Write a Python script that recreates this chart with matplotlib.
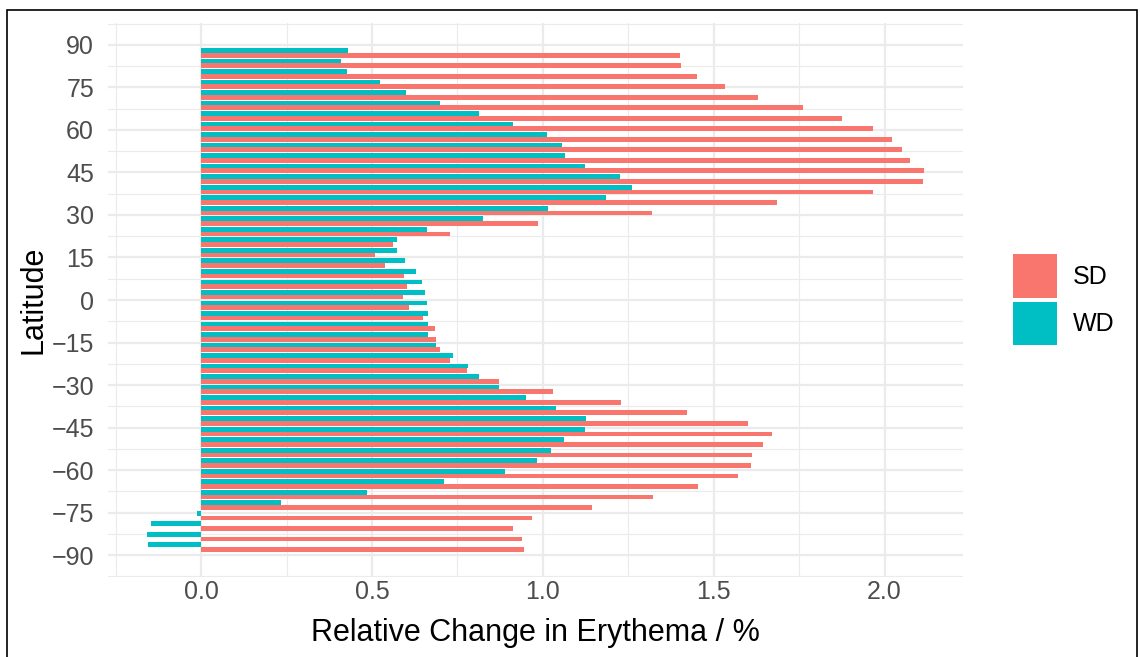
import numpy as np
import matplotlib
matplotlib.use("Agg")
import matplotlib.pyplot as plt
from matplotlib.patches import Patch, Rectangle

plt.rcParams['font.family'] = ['Liberation Sans', 'DejaVu Sans']

# Gaussian grid latitudes (48 rows), north to south
latitude = [87.159, 83.479, 79.777, 76.070, 72.362, 68.652, 64.942, 61.232,
            57.521, 53.810, 50.099, 46.389, 42.678, 38.967, 35.256, 31.545,
            27.834, 24.123, 20.411, 16.700, 12.989, 9.278, 5.567, 1.856,
            -1.856, -5.567, -9.278, -12.989, -16.700, -20.411, -24.123, -27.834,
            -31.545, -35.256, -38.967, -42.678, -46.389, -50.099, -53.810, -57.521,
            -61.232, -64.942, -68.652, -72.362, -76.070, -79.777, -83.479, -87.159]

# relative change in erythema (%), summer (SD) and winter (WD)
sd = [1.400, 1.403, 1.452, 1.532, 1.630, 1.762, 1.877, 1.967,
      2.023, 2.052, 2.074, 2.116, 2.114, 1.967, 1.686, 1.319,
      0.987, 0.728, 0.561, 0.510, 0.539, 0.593, 0.601, 0.590,
      0.607, 0.648, 0.684, 0.687, 0.699, 0.728, 0.778, 0.871,
      1.030, 1.228, 1.423, 1.601, 1.670, 1.645, 1.612, 1.609,
      1.572, 1.453, 1.321, 1.145, 0.969, 0.913, 0.939, 0.946]
wd = [0.429, 0.409, 0.428, 0.523, 0.600, 0.700, 0.813, 0.913,
      1.012, 1.055, 1.064, 1.123, 1.225, 1.261, 1.186, 1.014,
      0.825, 0.662, 0.572, 0.574, 0.596, 0.628, 0.646, 0.654,
      0.661, 0.664, 0.664, 0.665, 0.687, 0.736, 0.780, 0.814,
      0.872, 0.952, 1.039, 1.125, 1.122, 1.062, 1.023, 0.984,
      0.890, 0.711, 0.486, 0.234, -0.012, -0.148, -0.159, -0.156]

groups = ['SD', 'WD']
colors = {'SD': '#F8766D', 'WD': '#00BFC4'}

lat = np.array(latitude)
res = np.min(np.abs(np.diff(lat)))
h = 0.9 * res / 2  # dodged bar height

W, H = 1140, 657
fig = plt.figure(figsize=(W / 100, H / 100), dpi=100)
ax = fig.add_axes([108 / W, 1 - 577 / H, (963 - 108) / W, (577 - 23) / H])

ax.barh(lat - h / 2, sd, height=h, color=colors['SD'], linewidth=0, zorder=3)
ax.barh(lat + h / 2, wd, height=h, color=colors['WD'], linewidth=0, zorder=3)

# 5% expansion on both axes
xlo = min(min(sd), min(wd), 0)
xhi = max(max(sd), max(wd))
xpad = 0.05 * (xhi - xlo)
ax.set_xlim(xlo - xpad, xhi + xpad)
ylo, yhi = lat.min() - h, lat.max() + h
ypad = 0.05 * (yhi - ylo)
ax.set_ylim(ylo - ypad, yhi + ypad)

ax.set_xticks([0.0, 0.5, 1.0, 1.5, 2.0])
ax.set_xticklabels(['0.0', '0.5', '1.0', '1.5', '2.0'])
ax.set_xticks([-0.25, 0.25, 0.75, 1.25, 1.75], minor=True)
ax.set_yticks(np.arange(-90, 91, 15))
ax.set_yticklabels([str(v).replace('-', '\u2212') for v in range(-90, 91, 15)])
ax.set_yticks(np.arange(-97.5, 98, 15), minor=True)

ax.grid(which='major', color='#EBEBEB', linewidth=1.6, zorder=0)
ax.grid(which='minor', color='#EBEBEB', linewidth=0.8, zorder=0)
for s in ax.spines.values():
    s.set_visible(False)
ax.tick_params(which='both', length=0)
ax.tick_params(axis='y', labelsize=18, labelcolor='#4D4D4D', pad=10)
ax.tick_params(axis='x', labelsize=18, labelcolor='#4D4D4D', pad=2)

ax.set_xlabel('Relative Change in Erythema / %', fontsize=22, labelpad=10)
ax.set_ylabel('Latitude', fontsize=22, labelpad=2)

handles = [Patch(facecolor=colors[g], edgecolor='none') for g in groups]
fig.legend(handles, groups, loc='upper left',
           bbox_to_anchor=(1013 / W, 1 - 254 / H), frameon=False,
           fontsize=18, handlelength=1.75, handleheight=2.3,
           labelspacing=0.17, handletextpad=0.65, borderpad=0, borderaxespad=0)

# outer frame
fig.add_artist(Rectangle((7 / W, -0.02), (1137 - 7) / W, 1.02 - 10 / H,
                         transform=fig.transFigure, fill=False,
                         edgecolor='black', linewidth=1.2))

fig.savefig('out.png', dpi=100)
